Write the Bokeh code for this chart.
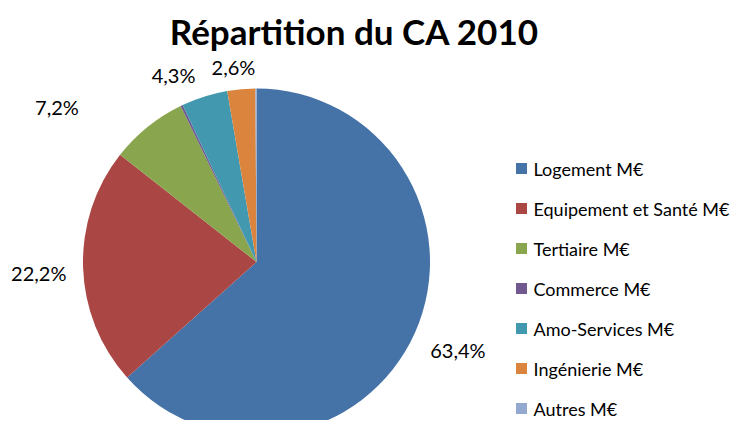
import numpy as np
from bokeh.plotting import figure
from bokeh.models import Range1d, ColumnDataSource
from bokeh.core.properties import value
from bokeh.embed import file_html
from bokeh.resources import INLINE

title = "Répartition du CA 2010"
categories = ["Logement M€", "Equipement et Santé M€", "Tertiaire M€", "Commerce M€",
              "Amo-Services M€", "Ingénierie M€", "Autres M€"]
shares = [63.4, 22.2, 7.2, 0.2, 4.3, 2.6, 0.1]
colors = ["#4572A7", "#AA4643", "#89A54E", "#71588F", "#4198AF", "#DB843D", "#93A9CF"]

# label styling (placement tweaks relative to slice mid-angle)
label_angle_shift_deg = [0.4, 1.0, 13.2, 0.0, 6.4, 1.7, 0.0]
label_dist = [220, 218, 253, 0, 205, 196, 0]

W, H = 738, 420
cx, cy, R = 256, 158.5, 173.5

p = figure(width=W, height=H, output_backend="svg", toolbar_location=None,
           x_range=Range1d(0, W), y_range=Range1d(0, H), min_border=0)
p.axis.visible = False
p.grid.visible = False
p.outline_line_color = None
p.background_fill_color = "white"

vals = np.array(shares, dtype=float)
frac = vals / vals.sum()
cum = np.concatenate([[0], np.cumsum(frac)])
start = np.pi / 2 - cum[1:] * 2 * np.pi
end = np.pi / 2 - cum[:-1] * 2 * np.pi
mid = (start + end) / 2

src = ColumnDataSource(dict(start=start, end=end, color=colors))
p.wedge(x=cx, y=cy, radius=R, start_angle="start", end_angle="end",
        fill_color="color", line_color=None, source=src)

# percent labels
lx, ly, lt = [], [], []
for i, v in enumerate(shares):
    if v < 1:
        continue
    a = mid[i] + np.deg2rad(label_angle_shift_deg[i])
    lx.append(cx + label_dist[i] * np.cos(a))
    ly.append(cy + label_dist[i] * np.sin(a))
    lt.append(f"{v:.1f}".replace(".", ",") + "%")
p.text(x=lx, y=ly, text=lt, text_font=value("Lato"), text_font_size="20px",
       text_align="center", text_baseline="middle", text_color="#000000")

# legend
leg_x0, leg_y0, leg_step = 521, 252, 40
ys = [leg_y0 - i * leg_step for i in range(len(categories))]
p.rect(x=[leg_x0] * len(categories), y=ys, width=11, height=11,
       fill_color=colors, line_color=None)
p.text(x=[leg_x0 + 12] * len(categories), y=ys, text=categories,
       text_font=value("Lato"), text_font_size="18px",
       text_align="left", text_baseline="middle", text_color="#000000")

# title
p.text(x=[354], y=[390], text=[title], text_font=value("Lato"), text_font_size="35px",
       text_font_style="bold", text_align="center", text_baseline="alphabetic",
       text_color="#000000")

open("out.html", "w").write(file_html(p, INLINE))
